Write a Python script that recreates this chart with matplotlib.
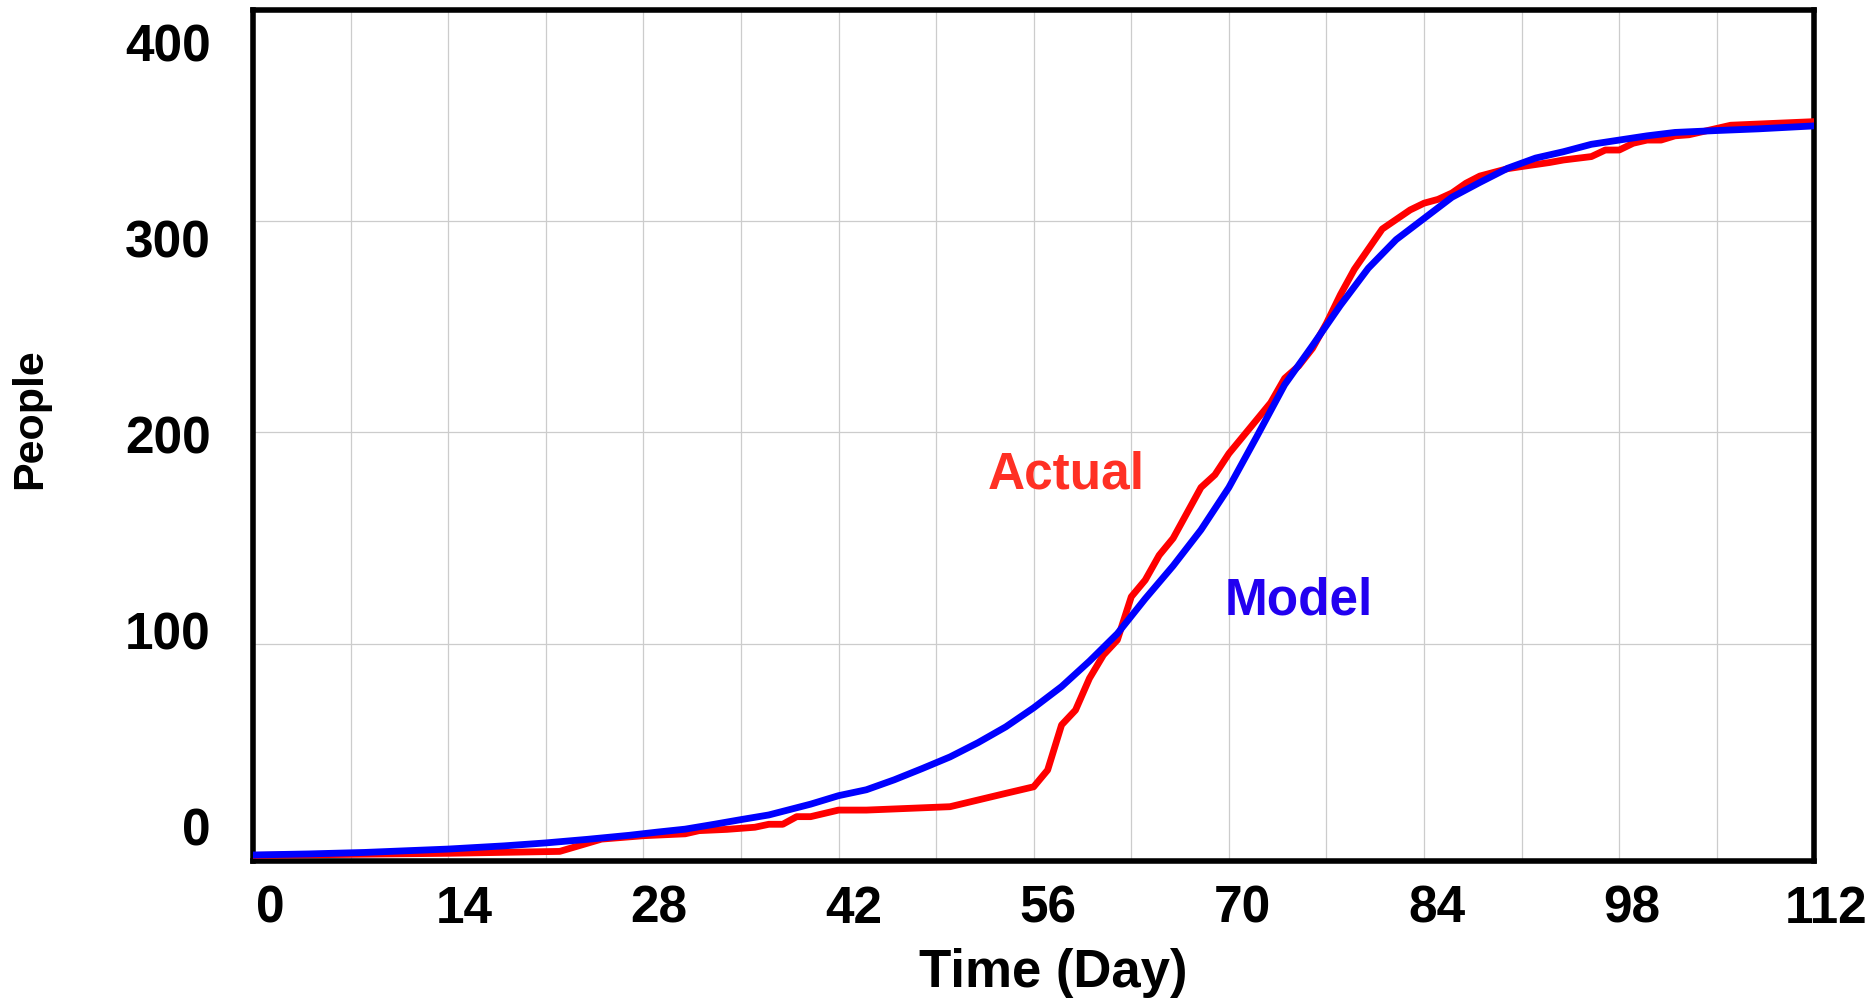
import matplotlib
matplotlib.use('Agg')
import matplotlib.pyplot as plt

plt.rcParams['font.family'] = ['Liberation Sans', 'DejaVu Sans']
plt.rcParams['font.weight'] = 'bold'

# 實際資料 (Actual)
actual_days = [0, 7, 14, 22, 25, 28, 31, 32, 34, 36, 37, 38, 39, 40, 42, 44, 50, 54,
               56, 57, 58, 59, 60, 61, 62, 63, 64, 65, 66, 67, 68, 69, 70, 71, 72, 73,
               74, 75, 76, 77, 78, 79, 81, 83, 84, 85, 86, 87, 88, 90, 91, 93, 94, 96,
               97, 98, 99, 100, 101, 102, 103, 104, 106, 112]
actual_people = [0.3, 0.8, 1.3, 2.2, 8.0, 9.6, 10.5, 12.0, 12.6, 13.6, 15.0, 15.0, 18.6, 18.6,
                 21.7, 21.7, 23.3, 29.6, 32.7, 40.6, 61.9, 68.9, 83.9, 94.9, 102.0, 122.4,
                 130.3, 142.0, 150.0, 162.0, 174.0, 180.0, 190.0, 198.0, 206.0, 214.0,
                 225.5, 231.3, 239.7, 251.5, 265.0, 277.0, 296.0, 305.0, 308.2, 310.0,
                 313.0, 317.6, 321.0, 324.5, 325.5, 327.4, 328.6, 330.2, 333.3, 333.3,
                 336.5, 338.0, 338.0, 340.0, 340.5, 342.0, 345.0, 346.7]

# 模型結果 (Model)
model_days = [0, 4, 8, 14, 18, 21, 24, 27, 29, 31, 33, 35, 37, 40, 42, 44, 46, 48, 50,
              52, 54, 56, 58, 60, 62, 64, 66, 68, 70, 72, 74, 76, 78, 80, 82, 84, 86,
              88, 90, 92, 94, 96, 98, 100, 102, 105, 108, 110, 112]
model_people = [0.5, 1.0, 1.7, 3.3, 4.8, 6.2, 7.9, 9.8, 11.3, 12.7, 14.9, 17.2, 19.4,
                24.5, 28.5, 31.3, 36.0, 41.3, 46.8, 53.5, 61.0, 70.0, 80.0, 92.0, 105.0,
                121.5, 137.0, 154.0, 174.0, 198.0, 222.5, 241.0, 260.0, 277.5, 291.0,
                301.0, 311.0, 318.0, 324.7, 329.5, 332.5, 336.0, 338.0, 340.0, 341.6,
                342.5, 343.3, 344.0, 344.7]

xtick_vals = [0, 14, 28, 42, 56, 70, 84, 98, 112]
ytick_vals = [0, 100, 200, 300, 400]

fig = plt.figure(figsize=(18.74, 10), dpi=100)
ax = fig.add_axes([0.135, 0.1395, 0.8332, 0.8505])

ax.plot(actual_days, actual_people, color='#ff0000', lw=4.9, solid_joinstyle='round', zorder=3)
ax.plot(model_days, model_people, color='#0000ff', lw=4.9, solid_joinstyle='round', zorder=4)

ax.set_xlim(0, 112)
ax.set_ylim(-2.1, 399.4)

# 格線: 每 7 天一條, 每 100 人一條
ax.set_xticks(range(0, 113, 7))
ax.set_yticks([100, 200, 300])
ax.grid(True, color='#cccccc', lw=0.9)
ax.tick_params(length=0, labelbottom=False, labelleft=False)

for s in ax.spines.values():
    s.set_linewidth(4)
    s.set_color('black')

# 刻度文字 (位置與格線略有偏移, 照原圖)
for v in ytick_vals:
    ax.text(-0.0269, 0.0182 + v / 400 * 0.9207, str(v), transform=ax.transAxes,
            ha='right', va='baseline', fontsize=37, fontweight='bold')
for d in xtick_vals:
    ax.text(0.0109 + d / 112 * 0.9965, -0.0731, str(d), transform=ax.transAxes,
            ha='center', va='baseline', fontsize=37, fontweight='bold')

fig.text(0.5622, 0.0133, 'Time (Day)', ha='center', va='baseline', fontsize=38, fontweight='bold')
fig.text(0.0053, 0.581, 'People', rotation=90, ha='left', va='center', fontsize=31, fontweight='bold')

ax.text(52.67, 173.6, 'Actual', color='#ff3024', ha='left', va='baseline', fontsize=37, fontweight='bold')
ax.text(69.7, 113.8, 'Model', color='#2200f0', ha='left', va='baseline', fontsize=37, fontweight='bold')

fig.savefig('out.png', dpi=100)
